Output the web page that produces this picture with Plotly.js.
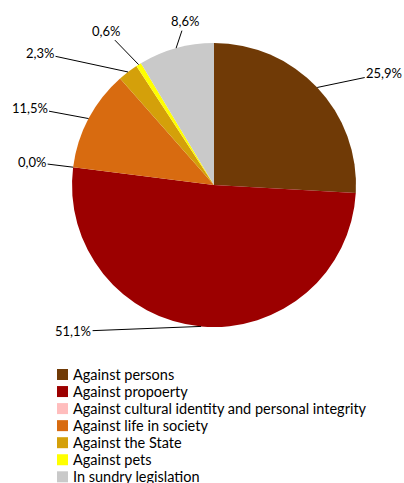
<!DOCTYPE html>
<html><head><meta charset="utf-8">
<script src="https://cdn.plot.ly/plotly-3.0.1.min.js"></script>
<style>html,body{margin:0;padding:0;background:#fff;overflow:hidden;}#chart{width:404px;height:483px;}</style>
</head><body><div id="chart"></div>
<script>
const categories = ["Against persons","Against propoerty","Against cultural identity and personal integrity","Against life in society","Against the State","Against pets","In sundry legislation"];
const shares = [25.9, 51.1, 0.0, 11.5, 2.3, 0.6, 8.6];
const colors = ["#703A06","#9C0000","#FFBDBD","#D86B10","#D4A00A","#FFFF00","#C9C9C9"];
// label text offsets (px) from slice edge
const labelDx = [67, -128, -41, -59, -88, -33, 9];
const labelDy = [-14, 5, -5, -11, -19, -34, -27];

const W = 404, H = 483;
const cx = 214, cy = 185, r = 142;
const domX = [(cx - r)/W, (cx + r)/W];
const domY = [(H - cy - r)/H, (H - cy + r)/H];
const FONT = 'Lato, Open Sans, sans-serif';

const total = shares.reduce((a,b)=>a+b,0);
let cum = 0;
const annotations = shares.map((v,i)=>{
  const mid = (cum + v/2)/total * 2*Math.PI;
  cum += v;
  const px = cx + r*Math.sin(mid), py = cy - r*Math.cos(mid);
  return {
    x: px/W, y: (H-py)/H, xref:'paper', yref:'paper',
    text: v.toFixed(1).replace('.', ',') + '%',
    showarrow: true, arrowhead: 0, arrowwidth: 1, arrowcolor: '#000',
    ax: labelDx[i], ay: labelDy[i],
    font: {family: FONT, size: 13, color: '#000'}
  };
});

// custom legend (rows laid out like the original)
const legX = 57, legSq = 11, legY0 = 374.5, legStep = 17.05;
const shapes = [];
categories.forEach((c,i)=>{
  const yc = legY0 + i*legStep;
  shapes.push({type:'rect', xref:'paper', yref:'paper',
    x0: legX/W, x1: (legX+legSq)/W, y0: (H-(yc+legSq/2))/H, y1: (H-(yc-legSq/2))/H,
    fillcolor: colors[i], line:{width:0}});
  annotations.push({x: 71/W, y: (H-yc)/H, xref:'paper', yref:'paper',
    xanchor:'left', yanchor:'middle', showarrow:false, text: c,
    font:{family: FONT, size: 14.5, color:'#000'}});
});

const trace = {
  type: 'pie', labels: categories, values: shares,
  marker: {colors: colors, line: {color: '#fff', width: 0}},
  sort: false, direction: 'clockwise', rotation: 0,
  textinfo: 'none', hoverinfo: 'none', showlegend: false,
  domain: {x: domX, y: domY}
};

const layout = {
  width: W, height: H,
  margin: {l:0, r:0, t:0, b:0},
  paper_bgcolor: '#fff',
  showlegend: false,
  annotations: annotations,
  shapes: shapes
};
Plotly.newPlot('chart', [trace], layout, {staticPlot: true});
</script></body></html>
